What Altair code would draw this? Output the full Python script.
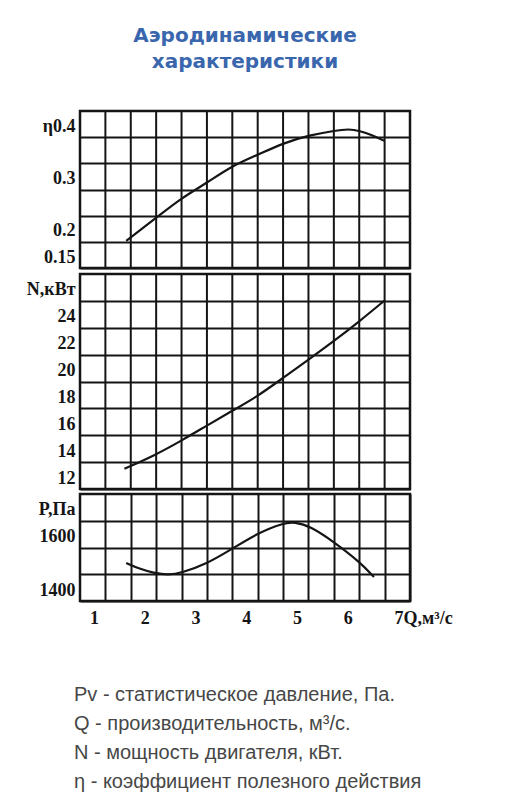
import altair as alt
import pandas as pd

# ---- data ----
Q_ETA = [1.41, 1.95, 2.5, 2.99, 3.49, 4.0, 4.51, 5.03, 5.5, 5.8, 6.01, 6.25, 6.49]
ETA = [0.202, 0.242, 0.284, 0.312, 0.345, 0.366, 0.389, 0.404, 0.412, 0.416, 0.412, 0.404, 0.393]

Q_N = [1.375, 1.97, 2.5, 2.99, 3.49, 4.0, 4.51, 5.03, 5.5, 6.01, 6.49]
N = [13.5, 14.5, 15.6, 16.7, 17.8, 18.9, 20.3, 21.7, 23.0, 24.5, 26.0]

Q_P = [1.41, 1.67, 1.95, 2.24, 2.5, 2.99, 3.49, 4.0, 4.51, 4.73, 5.03, 5.5, 6.01, 6.29]
P = [1542, 1520, 1505, 1497, 1505, 1538, 1594, 1654, 1692, 1695, 1680, 1621, 1546, 1490]

Q_DOMAIN = [0.5, 7]
Q_GRID = [1, 1.5, 2, 2.5, 3, 3.5, 4, 4.5, 5, 5.5, 6, 6.5, 7]
Q_TICKS = [1, 2, 3, 4, 5, 6, 7]
Q_LABELS = ["1", "2", "3", "4", "5", "6", "7Q,м³/с"]

ETA_DOMAIN = [0.15, 0.45]
ETA_GRID = [0.15, 0.2, 0.25, 0.3, 0.35, 0.4]
ETA_TICKS = [0.15, 0.2, 0.3, 0.4]
ETA_LABELS = ["0.15", "0.2", "0.3", "η0.4"]

N_DOMAIN = [12, 28]
N_GRID = [12, 14, 16, 18, 20, 22, 24, 26]
N_TICKS = [12, 14, 16, 18, 20, 22, 24, 26]
N_LABELS = ["12", "14", "16", "18", "20", "22", "24", "N,кВт"]

P_DOMAIN = [1400, 1800]
P_GRID = [1400, 1500, 1600, 1700]
P_TICKS = [1400, 1600, 1700]
P_LABELS = ["1400", "1600", "P,Па"]

TITLE = ["Аэродинамические", "характеристики"]
NOTES = [
    "Pv - статистическое давление, Па.",
    "Q - производительность, м³/с.",
    "N - мощность двигателя, кВт.",
    "η - коэффициент полезного действия",
]


def label_expr(values, labels):
    expr = "''"
    for v, l in reversed(list(zip(values, labels))):
        expr = f"datum.value == {v} ? '{l}' : ({expr})"
    return expr


LABEL_FONT = "Liberation Serif"
INK = "#151515"
W = 330
GRID = dict(grid=True, gridColor=INK, gridWidth=2, gridOpacity=1, ticks=False, domain=False, title=None)
X_SCALE = alt.Scale(domain=Q_DOMAIN, nice=False, zero=False)

X_AXIS_LABELLED = alt.Axis(
    values=Q_GRID, **GRID,
    labelExpr=label_expr(Q_TICKS, Q_LABELS), labelAlign="left",
    labelOffset=-16, labelPadding=8, labelFont=LABEL_FONT, labelFontSize=18,
    labelFontWeight="bold", labelColor=INK, labelOverlap=False,
    labelFlush=False, labelBound=False,
)


def y_axis(grid, ticks, labels):
    return alt.Axis(
        values=grid, **GRID,
        labelExpr=label_expr(ticks, labels), labelBaseline="middle", labelOffset=-11,
        labelPadding=5, labelFont=LABEL_FONT, labelFontSize=18, labelFontWeight="bold",
        labelColor=INK, labelOverlap=False, labelFlush=False, labelBound=False,
        minExtent=65, maxExtent=65,
    )


grid_df = pd.DataFrame({"q": Q_GRID})


def panel(qs, vs, domain, grid, ticks, labels, h, show_x):
    df = pd.DataFrame({"q": qs, "v": vs})
    y = alt.Y("v:Q", scale=alt.Scale(domain=domain, nice=False, zero=False),
              axis=y_axis(grid, ticks, labels))
    line = alt.Chart(df).mark_line(color=INK, strokeWidth=2.2, interpolate="basis").encode(
        x=alt.X("q:Q", scale=X_SCALE, axis=X_AXIS_LABELLED if show_x else None),
        y=y,
    )
    if show_x:
        ch = line
    else:
        rules = alt.Chart(grid_df).mark_rule(color=INK, strokeWidth=2).encode(
            x=alt.X("q:Q", scale=X_SCALE, axis=None)
        )
        ch = alt.layer(rules, line)
    return ch.properties(width=W, height=h, view=alt.ViewConfig(stroke=INK, strokeWidth=2.5))


eta_chart = panel(Q_ETA, ETA, ETA_DOMAIN, ETA_GRID, ETA_TICKS, ETA_LABELS, 157, False)
n_chart = panel(Q_N, N, N_DOMAIN, N_GRID, N_TICKS, N_LABELS, 215, False)
p_chart = panel(Q_P, P, P_DOMAIN, P_GRID, P_TICKS, P_LABELS, 107, True)

notes_df = pd.DataFrame({"idx": list(range(len(NOTES))), "txt": NOTES})
notes = alt.Chart(notes_df).mark_text(
    align="left", baseline="middle", font="Liberation Sans", fontSize=20, color="#474747", dy=52
).encode(
    x=alt.value(-6),
    y=alt.Y("idx:O", axis=None, scale=alt.Scale(paddingOuter=0.5)),
    text="txt:N",
).properties(width=W, height=115, view=alt.ViewConfig(strokeOpacity=0))

chart = alt.vconcat(eta_chart, n_chart, p_chart, notes, spacing=0).properties(
    title=alt.TitleParams(
        text=TITLE, font="DejaVu Sans", fontSize=20, fontWeight="bold",
        color="#3a66ae", anchor="middle", frame="group", offset=37, lineHeight=26,
    ),
    padding={"left": 5, "top": 17, "right": 5, "bottom": 5},
    background="white",
)

chart.save("out.html", embed_options={"renderer": "svg", "actions": False})
